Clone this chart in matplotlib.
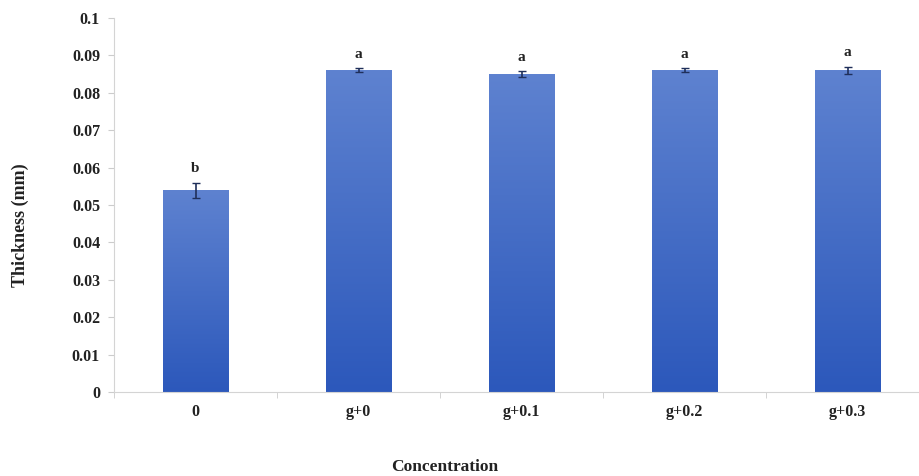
import matplotlib
matplotlib.use("Agg")
import matplotlib.pyplot as plt
import numpy as np
from matplotlib.colors import LinearSegmentedColormap

categories = ["0", "g+0", "g+0.1", "g+0.2", "g+0.3"]
thickness = [0.054, 0.086, 0.085, 0.086, 0.086]
errors = [0.002, 0.0005, 0.0008, 0.0005, 0.001]
letters = ["b", "a", "a", "a", "a"]

plt.rcParams["font.family"] = ["Liberation Serif", "DejaVu Serif"]
plt.rcParams["font.weight"] = "bold"

fig = plt.figure(figsize=(9.2, 4.76), dpi=100)
W, H = 920, 476
ax = fig.add_axes([114 / W, 1 - 392 / H, (929 - 114) / W, (392 - 18) / H])

x = np.arange(len(categories))
bars = ax.bar(x, thickness, width=0.4, color="#4470c8", zorder=2)

# vertical gradient fill, lighter at the top
cmap = LinearSegmentedColormap.from_list("blu", ["#2c58bb", "#5e82d0"])
grad = np.linspace(0, 1, 256).reshape(-1, 1)
for b in bars:
    x0, y0 = b.get_x(), b.get_y()
    w, h = b.get_width(), b.get_height()
    im = ax.imshow(grad, cmap=cmap, origin="lower", aspect="auto",
                   extent=[x0, x0 + w, y0, y0 + h], zorder=2.5)
    im.set_clip_path(b)
    b.set_facecolor("none")

ax.errorbar(x, thickness, yerr=errors, fmt="none", ecolor="#1f2f5a",
            elinewidth=1.2, capsize=3, capthick=1, zorder=3)

for xi, v, e, t in zip(x, thickness, errors, letters):
    ax.text(xi, v + e + 0.002, t, ha="center", va="bottom",
            fontsize=11, fontweight="bold", color="#222222")

ax.set_xlim(-0.5, 4.5)
ax.set_ylim(0, 0.1)
ax.set_yticks(np.arange(0, 0.101, 0.01))
ax.set_yticklabels(["0", "0.01", "0.02", "0.03", "0.04", "0.05", "0.06",
                    "0.07", "0.08", "0.09", "0.1"])
ax.set_xticks(x)
ax.set_xticklabels(categories)
ax.set_xticks(np.arange(-0.5, 5, 1), minor=True)
ax.tick_params(axis="x", which="major", length=0, pad=9, labelsize=11.5)
ax.tick_params(axis="x", which="minor", length=4, color="#cccccc", direction="out")
ax.tick_params(axis="y", length=4, color="#cccccc", pad=6, labelsize=11.5)
for lab in ax.get_yticklabels() + ax.get_xticklabels():
    lab.set_fontweight("bold")
    lab.set_color("#222222")

for s in ["top", "right"]:
    ax.spines[s].set_visible(False)
ax.spines["left"].set_color("#d4d4d4")
ax.spines["bottom"].set_color("#d4d4d4")

fig.text(20 / W, 1 - 225 / H, "Thickness (mm)", rotation=90, ha="center",
         va="center", fontsize=13, fontweight="bold", color="#222222")
fig.text(445 / W, 1 - 467 / H, "Concentration", ha="center", va="center",
         fontsize=12.5, fontweight="bold", color="#222222")

fig.savefig("out.png", dpi=100)
